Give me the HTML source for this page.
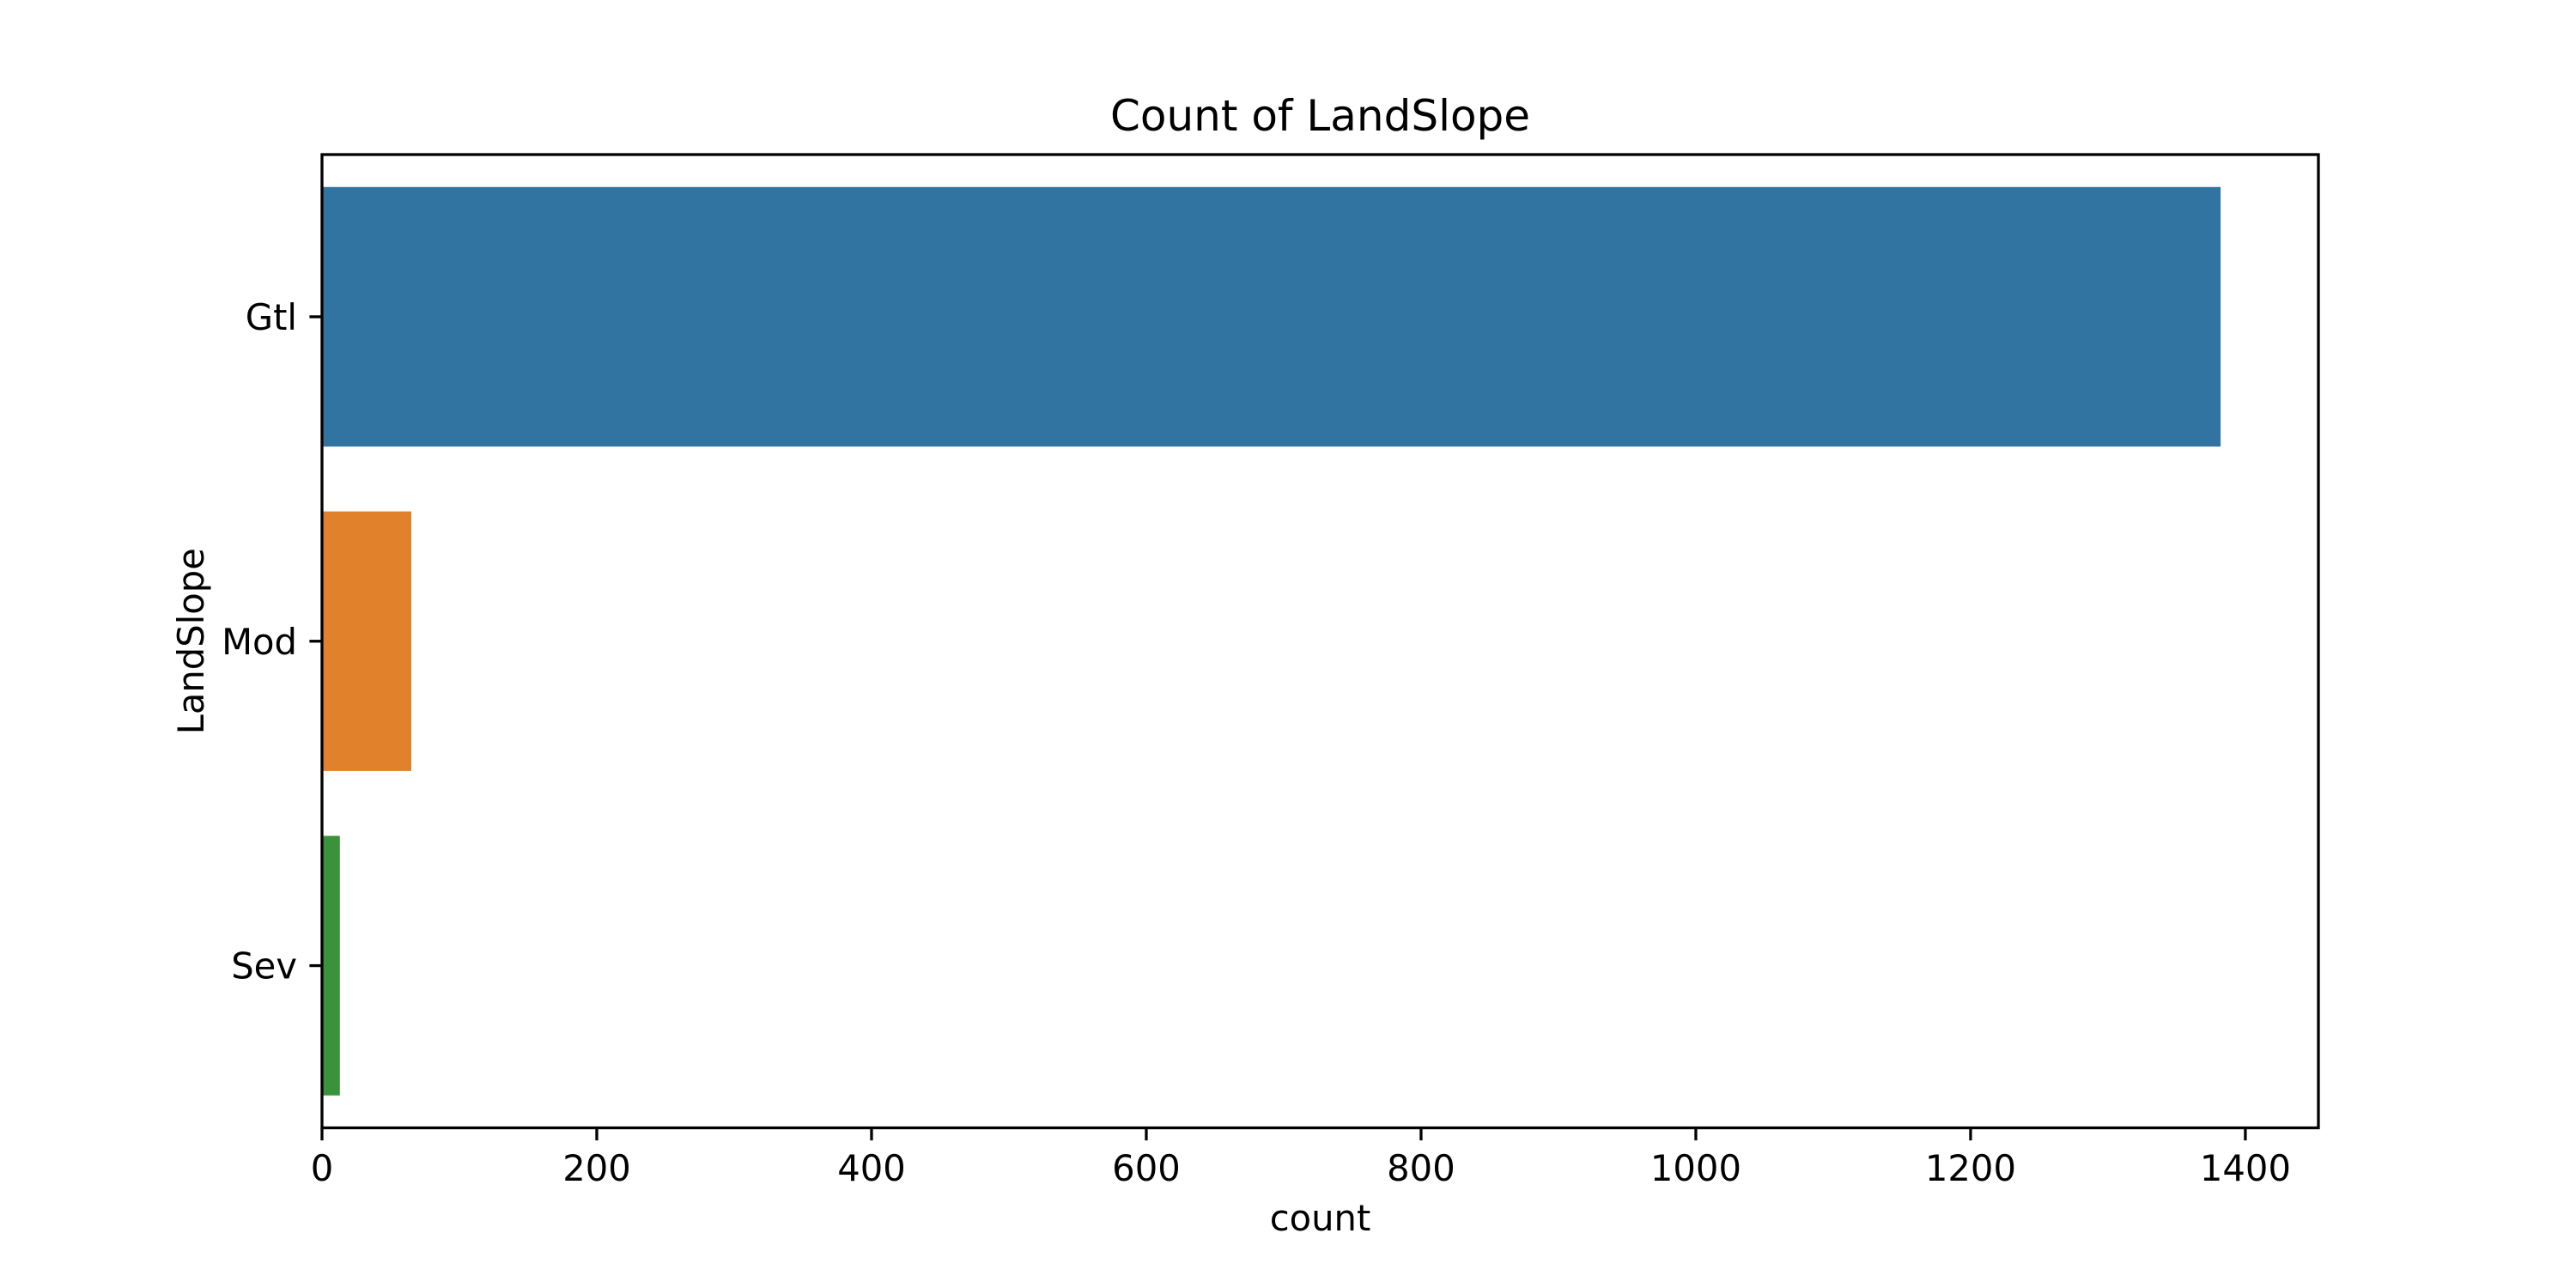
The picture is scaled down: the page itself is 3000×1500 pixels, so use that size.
<!DOCTYPE html>
<html><head><meta charset="utf-8"><style>
html,body{margin:0;padding:0;background:#fff;}
svg{display:block;font-family:"DejaVu Sans","Liberation Sans",sans-serif;}
</style></head><body>
<svg id="chart" width="3000" height="1500" viewBox="0 0 3000 1500"></svg>
<script>
const categories = ["Gtl", "Mod", "Sev"];
const counts = [1382, 65, 13];
const colors = ["#3274a1", "#e1812c", "#3a923a"];
const xTicks = [0, 200, 400, 600, 800, 1000, 1200, 1400];

const svg = document.getElementById('chart');
const NS = 'http://www.w3.org/2000/svg';
const L = 375, R = 2700, T = 180, B = 1313.5;
const xMax = Math.max(...counts) * 1.0515;
const xs = v => L + v / xMax * (R - L);
const band = (B - T) / categories.length;
const yc = i => T + band * (i + 0.5);

function mk(tag, attrs, parent) {
  const e = document.createElementNS(NS, tag);
  for (const k in attrs) e.setAttribute(k, attrs[k]);
  (parent || svg).appendChild(e);
  return e;
}

categories.forEach((c, i) => {
  const r = mk('rect', {x: xs(0), y: yc(i) - band * 0.4, width: xs(counts[i]) - xs(0), height: band * 0.8, fill: colors[i]});
  
  
  const tk = mk('line', {x1: L, x2: L - 14.6, y1: yc(i), y2: yc(i), stroke: '#000', 'stroke-width': 3.3});
  
  
  const t = mk('text', {x: L - 29, y: yc(i) + 15, 'font-size': 41.7, 'text-anchor': 'end', fill: '#000'});
  t.textContent = c;
  
  
});

xTicks.forEach(v => {
  const tk = mk('line', {x1: xs(v), x2: xs(v), y1: B, y2: B + 14.6, stroke: '#000', 'stroke-width': 3.3});
  
  
  const t = mk('text', {x: xs(v), y: 1375, 'font-size': 41.7, 'text-anchor': 'middle', fill: '#000'});
  t.textContent = v;
  
  
});

const frame = mk('rect', {x: L, y: T, width: R - L, height: B - T, fill: 'none', stroke: '#000', 'stroke-width': 3.3});



const title = mk('text', {x: (L + R) / 2, y: 152, 'font-size': 50, 'text-anchor': 'middle', fill: '#000'});
title.textContent = 'Count of LandSlope';



const xl = mk('text', {x: (L + R) / 2, y: 1433, 'font-size': 41.7, 'text-anchor': 'middle', fill: '#000'});
xl.textContent = 'count';



const yl = mk('text', {x: 0, y: 0, 'font-size': 41.7, 'text-anchor': 'middle', fill: '#000', transform: 'translate(237,' + ((T + B) / 2) + ') rotate(-90)'});
yl.textContent = 'LandSlope';


</script>
</body></html>
